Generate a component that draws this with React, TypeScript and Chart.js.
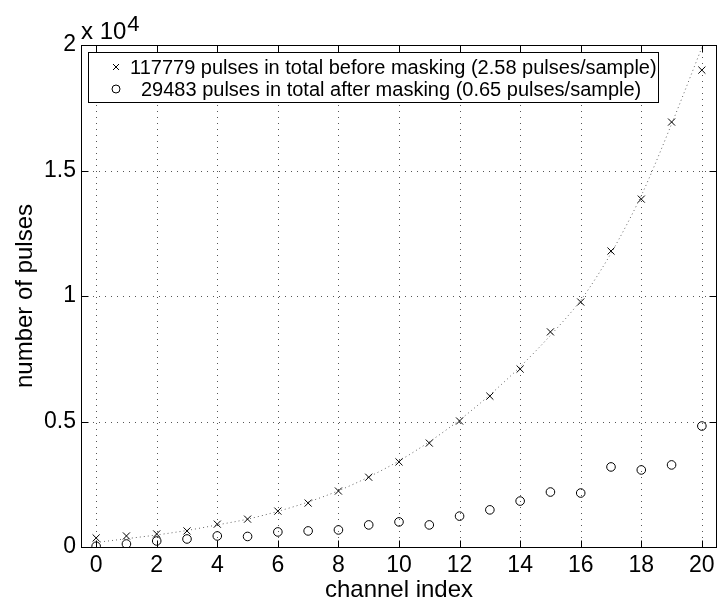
import React, { useEffect, useRef } from 'react';
import { Chart, registerables } from 'chart.js';

Chart.register(...registerables);

const FONT = '"Liberation Sans", Arial, Helvetica, sans-serif';

const channels = [0, 1, 2, 3, 4, 5, 6, 7, 8, 9, 10, 11, 12, 13, 14, 15, 16, 17, 18, 19, 20];
const beforeMasking = [360, 440, 520, 640, 910, 1110, 1430, 1750, 2230, 2780, 3390, 4140, 5020, 6010, 7090, 8570, 9760, 11790, 13860, 16930, 19000];
const afterMasking = [30, 120, 240, 320, 440, 420, 600, 640, 680, 880, 1000, 880, 1230, 1480, 1830, 2190, 2150, 3190, 3070, 3270, 4820];
const fitCurve = [180, 330, 480, 660, 880, 1110, 1420, 1790, 2240, 2790, 3430, 4190, 5060, 6060, 7180, 8430, 9830, 11700, 14000, 16850, 19900];

const xTickValues = [0, 2, 4, 6, 8, 10, 12, 14, 16, 18, 20];
const yTickValues = [0, 5000, 10000, 15000, 20000];
const xRange = [-0.5, 20.5];
const yRange = [0, 20000];

const xTitle = 'channel index';
const yTitle = 'number of pulses';
const exponentBase = 'x 10';
const exponentPower = '4';
const legendLabels = [
  '117779 pulses in total before masking (2.58 pulses/sample)',
  '29483 pulses in total after masking (0.65 pulses/sample)',
];

const framePlugin = {
  id: 'matlabFrame',
  afterLayout(chart: any) {
    // keep the plot box flush with the right edge, like the original figure
    const target = chart.width - 1;
    const x = chart.scales.x;
    if (x && Math.abs(chart.chartArea.right - target) > 0.1) {
      chart.chartArea.right = target;
      chart.chartArea.width = target - chart.chartArea.left;
      x.right = target;
      x.width = target - x.left;
      x.configure();
      const y = chart.scales.y;
      if (y) y.configure();
    }
  },
  beforeDatasetsDraw(chart: any) {
    const { ctx, chartArea: a, scales } = chart;
    const x = scales.x;
    const y = scales.y;
    ctx.save();
    ctx.strokeStyle = '#555';
    ctx.lineWidth = 1;
    ctx.setLineDash([1, 5]);
    xTickValues.forEach((v) => {
      const px = Math.round(x.getPixelForValue(v)) + 0.5;
      ctx.beginPath();
      ctx.moveTo(px, a.top);
      ctx.lineTo(px, a.bottom);
      ctx.stroke();
    });
    yTickValues.forEach((v) => {
      const py = Math.round(y.getPixelForValue(v)) + 0.5;
      ctx.beginPath();
      ctx.moveTo(a.left, py);
      ctx.lineTo(a.right, py);
      ctx.stroke();
    });
    ctx.restore();
  },
  afterDatasetsDraw(chart: any) {
    const { ctx, chartArea: a, scales } = chart;
    const x = scales.x;
    const y = scales.y;
    const L = Math.round(a.left) + 0.5;
    const R = Math.round(a.right) - 0.5;
    const T = Math.round(a.top) + 0.5;
    const B = Math.round(a.bottom) + 0.5;
    ctx.save();
    ctx.setLineDash([]);
    ctx.strokeStyle = '#000';
    ctx.lineWidth = 1;
    ctx.strokeRect(L, T, R - L, B - T);
    const tl = 7;
    ctx.beginPath();
    xTickValues.forEach((v) => {
      const px = Math.round(x.getPixelForValue(v)) + 0.5;
      ctx.moveTo(px, B);
      ctx.lineTo(px, B - tl);
      ctx.moveTo(px, T);
      ctx.lineTo(px, T + tl);
    });
    yTickValues.forEach((v) => {
      const py = Math.round(y.getPixelForValue(v)) + 0.5;
      ctx.moveTo(L, py);
      ctx.lineTo(L + tl, py);
      ctx.moveTo(R, py);
      ctx.lineTo(R - tl, py);
    });
    ctx.stroke();

    // legend
    const lx0 = 88.5, ly0 = 52.5, lx1 = 658.5, ly1 = 102.5;
    ctx.fillStyle = '#fff';
    ctx.fillRect(lx0, ly0, lx1 - lx0, ly1 - ly0);
    ctx.strokeStyle = '#000';
    ctx.strokeRect(lx0, ly0, lx1 - lx0, ly1 - ly0);
    const mx = 116;
    ctx.beginPath();
    ctx.moveTo(mx - 3, 67 - 3);
    ctx.lineTo(mx + 3, 67 + 3);
    ctx.moveTo(mx + 3, 67 - 3);
    ctx.lineTo(mx - 3, 67 + 3);
    ctx.stroke();
    ctx.beginPath();
    ctx.arc(mx, 89, 4, 0, Math.PI * 2);
    ctx.stroke();
    ctx.fillStyle = '#000';
    ctx.font = `20px ${FONT}`;
    ctx.textBaseline = 'alphabetic';
    ctx.textAlign = 'left';
    ctx.fillText(legendLabels[0], 130, 74);
    ctx.fillText(legendLabels[1], 141, 96);

    // exponent label
    ctx.font = `24px ${FONT}`;
    ctx.fillText(exponentBase, 81, 39);
    const w = ctx.measureText(exponentBase).width;
    ctx.font = `22px ${FONT}`;
    ctx.fillText(exponentPower, 81 + w + 1, 31);
    ctx.restore();
  },
};

export default function App() {
  const ref = useRef<HTMLCanvasElement | null>(null);
  useEffect(() => {
    if (!ref.current) return;
    const tickFont = { family: FONT, size: 23, lineHeight: 1 };
    const titleFont = { family: FONT, size: 24, lineHeight: 1 };
    const chart = new Chart(ref.current, {
      type: 'scatter',
      data: {
        datasets: [
          {
            label: 'before masking',
            data: channels.map((c, i) => ({ x: c, y: beforeMasking[i] })),
            pointStyle: 'crossRot',
            pointRadius: 5,
            pointBorderWidth: 1,
            borderColor: '#000',
            backgroundColor: 'transparent',
            showLine: false,
            order: 1,
          },
          {
            label: 'after masking',
            data: channels.map((c, i) => ({ x: c, y: afterMasking[i] })),
            pointStyle: 'circle',
            pointRadius: 4.3,
            pointBorderWidth: 1,
            borderColor: '#000',
            backgroundColor: 'transparent',
            showLine: false,
            order: 2,
          },
          {
            label: 'fit',
            data: channels.map((c, i) => ({ x: c, y: fitCurve[i] })),
            showLine: true,
            pointRadius: 0,
            borderColor: '#666',
            borderWidth: 1,
            borderDash: [1, 3],
            tension: 0.3,
            order: 3,
          },
        ],
      },
      options: {
        animation: false,
        responsive: false,
        maintainAspectRatio: false,
        layout: { padding: { top: 45, right: 1, left: 0, bottom: 0 } },
        plugins: { legend: { display: false }, tooltip: { enabled: false } },
        scales: {
          x: {
            type: 'linear',
            min: xRange[0],
            max: xRange[1],
            afterBuildTicks: (s: any) => {
              s.ticks = xTickValues.map((v) => ({ value: v }));
            },
            afterFit: (s: any) => {
              s.height = 57;
            },
            grid: { display: false, drawTicks: false },
            border: { display: false },
            ticks: {
              font: tickFont,
              color: '#000',
              padding: 7,
              maxRotation: 0,
              autoSkip: false,
              callback: (v: any) => String(v),
            },
            title: {
              display: true,
              text: xTitle,
              font: titleFont,
              color: '#000',
              padding: { top: 0, bottom: 2 },
            },
          },
          y: {
            type: 'linear',
            min: yRange[0],
            max: yRange[1],
            afterBuildTicks: (s: any) => {
              s.ticks = yTickValues.map((v) => ({ value: v }));
            },
            afterFit: (s: any) => {
              s.width = 81;
            },
            grid: { display: false, drawTicks: false },
            border: { display: false },
            ticks: {
              font: tickFont,
              color: '#000',
              padding: 5,
              autoSkip: false,
              callback: (v: any) => String(v / 10000),
            },
            title: {
              display: true,
              text: yTitle,
              font: titleFont,
              color: '#000',
              padding: { top: 13, bottom: 0 },
            },
          },
        },
      },
      plugins: [framePlugin],
    } as any);
    return () => chart.destroy();
  }, []);
  return (
    <div style={{ position: 'fixed', left: 0, top: 0, width: 718, height: 604, background: '#fff' }}>
      <canvas ref={ref} width={718} height={604} />
    </div>
  );
}
